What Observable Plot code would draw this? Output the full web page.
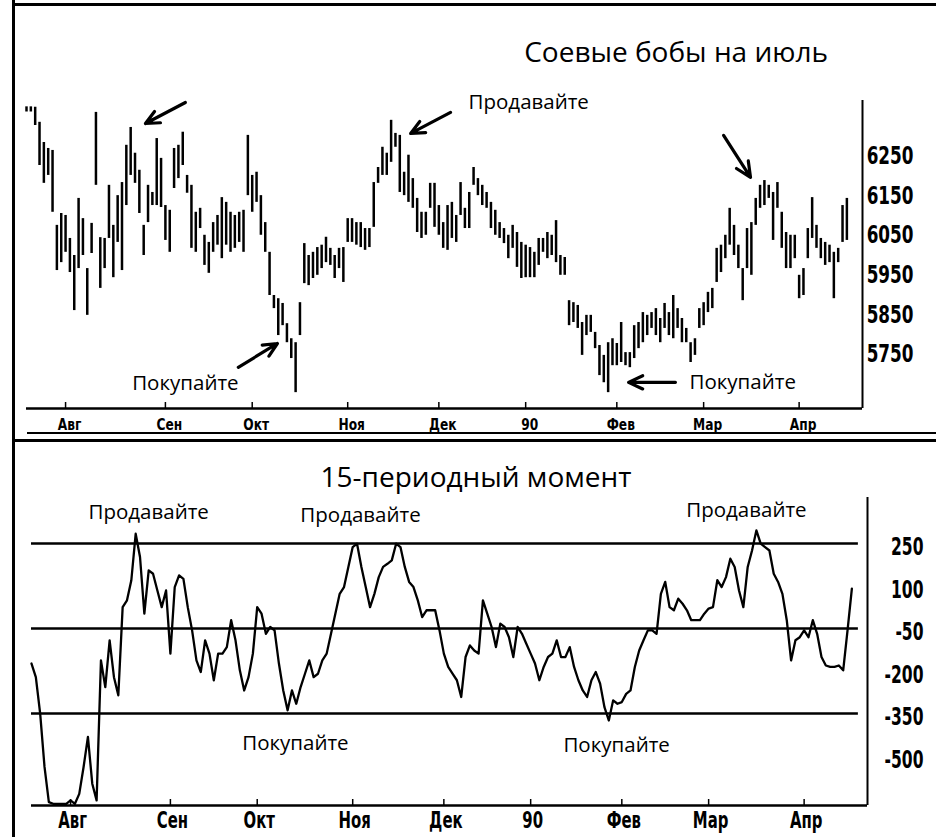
<!DOCTYPE html>
<html><head><meta charset="utf-8">
<script src="https://cdn.jsdelivr.net/npm/d3@7"></script>
<script src="https://cdn.jsdelivr.net/npm/@observablehq/plot@0.6"></script>
<style>
body{margin:0;background:#fff}
#wrap{position:relative;width:936px;height:837px;overflow:hidden;background:#fff;font-family:"Open Sans",sans-serif}
.abs{position:absolute}
.hl{position:absolute;background:#000}
.title{position:absolute;font-size:28px;color:#000;white-space:nowrap;line-height:1;font-family:"Open Sans",sans-serif}
</style></head><body>
<div id="wrap">
 <div id="top" class="abs" style="left:0;top:0"></div>
 <div id="bot" class="abs" style="left:0;top:445px"></div>
 <div class="hl" style="left:12px;top:0;width:3px;height:837px"></div>
 <div class="hl" style="left:12px;top:3px;width:924px;height:3px"></div>
 <div class="hl" style="left:27px;top:432px;width:909px;height:2px"></div>
 <div class="hl" style="left:12px;top:439px;width:924px;height:3px"></div>
 <div class="title" style="right:108px;top:37px">Соевые бобы на июль</div>
 <div class="title" style="left:476px;top:462px;transform:translateX(-50%)">15-периодный момент</div>
</div>
<script>
// ---- data ----
const monthIdx = [9, 32, 52, 74, 95, 115, 136, 156, 178];
const monthLabels = ["Авг", "Сен", "Окт", "Ноя", "Дек", "90", "Фев", "Мар", "Апр"];
const priceTicks = [5750, 5850, 5950, 6050, 6150, 6250];
const momTicks = [250, 100, -50, -200, -350, -500];
const momLevels = [250, -50, -350];

const highs = [6375,6375,6374,6336,6285,6270,6265,6076,6106,6101,
6043,6000,6144,6093,5967,6081,6361,6045,6043,6177,
6076,6151,6184,6278,6323,6258,6215,6076,6177,6159,
6295,6245,6126,6114,6270,6278,6311,6202,6177,6109,
6119,6051,6033,6083,6101,6146,6134,6109,6101,6109,
6114,6303,6202,6210,6151,6083,6008,5899,5891,5879,
5828,5790,5780,5881,6030,6000,6008,6020,6026,6046,
6018,6000,6018,6020,6093,6093,6083,6083,6068,6068,
6184,6222,6273,6258,6341,6308,6303,6210,6253,6194,
6144,6109,6109,6182,6182,6126,6083,6126,6134,6101,
6184,6119,6159,6222,6194,6177,6159,6134,6114,6083,
6068,6051,6076,6058,6033,6026,6020,6008,6043,6043,
6058,6051,6088,6000,5995,5886,5881,5874,5831,5849,
5849,5806,5773,5748,5780,5790,5778,5831,5755,5755,
5823,5831,5856,5849,5856,5866,5841,5879,5856,5899,
5866,5841,5816,5780,5790,5866,5881,5907,5917,6018,
6026,6051,6119,6076,6026,5967,6068,6083,6144,6177,
6189,6177,6159,6184,6109,6058,6051,6051,5950,5967,
6068,6146,6076,6043,6033,6026,6008,6018,6126,6144];

const lows = [6362,6362,6328,6227,6182,6202,6109,5962,5982,6008,
5957,5861,5967,6000,5849,6005,6177,5917,5967,6043,
5944,6033,5962,6126,6202,6182,6106,6000,6083,6126,
6126,6121,6038,6008,6169,6194,6227,6157,6018,6008,
6068,5975,5955,6008,6026,5992,6026,6008,6018,6033,
6008,6151,6109,6134,6051,6008,5899,5866,5798,5823,
5780,5740,5654,5798,5929,5924,5942,5950,5967,5982,
5975,5942,5967,5932,6033,6033,6026,6020,6013,6020,
6071,6182,6202,6202,6235,6273,6159,6151,6134,6119,
6058,6043,6051,6119,6071,6051,6018,6013,6043,6033,
6101,6068,6068,6177,6151,6126,6119,6068,6051,6043,
6030,5992,6018,5970,5942,5944,5944,5944,5975,6008,
5992,6000,5982,5950,5950,5823,5831,5816,5748,5798,
5806,5765,5697,5679,5654,5722,5722,5730,5722,5717,
5740,5765,5780,5798,5816,5798,5780,5816,5798,5790,
5816,5780,5780,5730,5748,5816,5823,5856,5866,5932,
5957,5992,6026,6000,5967,5886,5967,5950,6076,6119,
6126,6144,6038,6119,6018,5967,5967,5992,5891,5899,
5992,6043,6018,5992,5975,5982,5891,5982,6033,6038];

const momentum = [-174,-222,-351,-539,-663,-669,-669,-669,-669,-657,
-669,-634,-539,-433,-598,-657,-163,-257,-92,-222,
-286,25,49,120,284,202,2,155,143,84,
25,84,-139,96,137,125,25,-57,-163,-204,
-92,-139,-233,-139,-139,-116,-21,-92,-198,-269,
-222,-139,25,2,-69,-45,-57,-174,-269,-339,
-269,-316,-257,-210,-163,-222,-210,-163,-139,-69,
2,72,96,167,237,249,167,96,25,72,
131,167,178,190,249,237,167,114,96,49,
-10,14,14,14,-57,-139,-186,-210,-233,-292,
-151,-110,-128,-139,49,2,-45,-116,-33,-45,
-81,-151,-45,-69,-104,-139,-174,-233,-186,-151,
-139,-92,-151,-151,-116,-186,-233,-269,-292,-233,
-204,-245,-328,-375,-304,-316,-310,-281,-269,-186,
-128,-92,-57,-57,-69,72,114,25,14,55,
37,14,-21,-21,-21,2,20,25,120,96,
131,196,167,84,25,167,225,296,249,237,
225,143,114,72,-21,-163,-92,-81,-57,-81,
-21,-69,-151,-181,-186,-186,-181,-198,-57,90];

const topNotes = [
  {x: 115.7, y: 6386, text: "Продавайте"},
  {x: 36.6, y: 5677, text: "Покупайте"},
  {x: 165, y: 5680, text: "Покупайте"}
];
const topArrows = [
  {x1: 36.6, y1: 6386, x2: 27.4, y2: 6333},
  {x1: 97.7, y1: 6361, x2: 88.5, y2: 6308},
  {x1: 48.8, y1: 5718, x2: 57.8, y2: 5778},
  {x1: 149.5, y1: 5680, x2: 138.7, y2: 5680},
  {x1: 160.6, y1: 6303, x2: 166.8, y2: 6197}
];
const botNotes = [
  {x: 27, y: 359, text: "Продавайте"},
  {x: 75.8, y: 349, text: "Продавайте"},
  {x: 164.7, y: 366, text: "Продавайте"},
  {x: 60.8, y: -456, text: "Покупайте"},
  {x: 134.8, y: -463, text: "Покупайте"}
];

// ---- build ----
const bars = highs.map((h, i) => ({i, high: h, low: lows[i]}));
const mom = momentum.map((v, i) => ({i, v}));
const xDomain = [0, 192.6];
const yTopDomain = [5614, 6391];
const yBotDomain = [-675, 412];
const narrow = '"Liberation Sans Narrow","DejaVu Sans Condensed","Arial Narrow",sans-serif';
const sans = '"Open Sans",sans-serif';
const fmtMonth = d => monthLabels[monthIdx.indexOf(d)];

// horizontally condense axis labels (the book uses a narrow bold face)
function squeeze(svg, label, f) {
  svg.querySelectorAll(`[aria-label="${label}"] text`).forEach(t => {
    let tr = t.getAttribute("transform") || "";
    const x = t.getAttribute("x");
    if (x !== null && isFinite(+x) && +x !== 0) {
      tr += ` translate(${+x},0)`;
      t.removeAttribute("x");
    }
    t.setAttribute("transform", `${tr} scale(${f},1)`.trim());
  });
}

const topPlot = Plot.plot({
  width: 936, height: 445,
  marginTop: 100, marginBottom: 37, marginLeft: 26, marginRight: 74,
  x: {domain: xDomain},
  y: {domain: yTopDomain},
  style: {background: "white", color: "black", fontFamily: narrow},
  marks: [
    Plot.ruleX(bars, {x: "i", y1: "low", y2: "high", stroke: "black", strokeWidth: 2.5}),
    Plot.ruleY([yTopDomain[0]], {stroke: "black", strokeWidth: 2.5}),
    Plot.ruleX([xDomain[1]], {stroke: "black", strokeWidth: 2}),
    Plot.tickX(monthIdx, {x: d => d, insetTop: 302, stroke: "black", strokeWidth: 1.5}),
    Plot.axisX({ticks: monthIdx, tickFormat: fmtMonth, tickSize: 0, tickPadding: 10, dx: 4,
      fontSize: 16, fontWeight: "bold", fontFamily: narrow}),
    Plot.axisY({anchor: "right", ticks: priceTicks, tickFormat: d => String(d), tickSize: 0, tickPadding: 51,
      textAnchor: "end", fontSize: 24, fontWeight: "bold", fontFamily: narrow}),
    Plot.arrow(topArrows, {x1: "x1", y1: "y1", x2: "x2", y2: "y2", stroke: "black", strokeWidth: 3.2, headLength: 11, headAngle: 50}),
    Plot.text(topNotes, {x: "x", y: "y", text: "text", fontSize: 20.5, fontFamily: sans, fill: "black"})
  ]
});
document.getElementById("top").append(topPlot);
squeeze(topPlot, "y-axis tick label", 0.78);
squeeze(topPlot, "x-axis tick label", 0.85);

const botPlot = Plot.plot({
  width: 936, height: 392,
  marginTop: 52, marginBottom: 32, marginLeft: 31, marginRight: 69,
  x: {domain: xDomain},
  y: {domain: yBotDomain},
  style: {background: "white", color: "black", fontFamily: narrow},
  marks: [
    Plot.ruleY(momLevels, {x1: 0, x2: momentum.length + 0.5, stroke: "black", strokeWidth: 2.5}),
    Plot.line(mom, {x: "i", y: "v", stroke: "black", strokeWidth: 2.3}),
    Plot.ruleY([yBotDomain[0]], {stroke: "black", strokeWidth: 2.5}),
    Plot.ruleX([xDomain[1]], {stroke: "black", strokeWidth: 2}),
    Plot.tickX(monthIdx, {x: d => d, insetTop: 302, stroke: "black", strokeWidth: 1.5}),
    Plot.axisX({ticks: monthIdx, tickFormat: fmtMonth, tickSize: 0, tickPadding: 6, dx: 2,
      fontSize: 23, fontWeight: "bold", fontFamily: narrow}),
    Plot.axisY({anchor: "right", ticks: momTicks, tickFormat: d => String(d), tickSize: 0, tickPadding: 56,
      textAnchor: "end", dy: 4, fontSize: 24, fontWeight: "bold", fontFamily: narrow}),
    Plot.text(botNotes, {x: "x", y: "y", text: "text", fontSize: 20.5, fontFamily: sans, fill: "black"})
  ]
});
document.getElementById("bot").append(botPlot);
squeeze(botPlot, "y-axis tick label", 0.72);
squeeze(botPlot, "x-axis tick label", 0.72);
</script>
</body></html>
